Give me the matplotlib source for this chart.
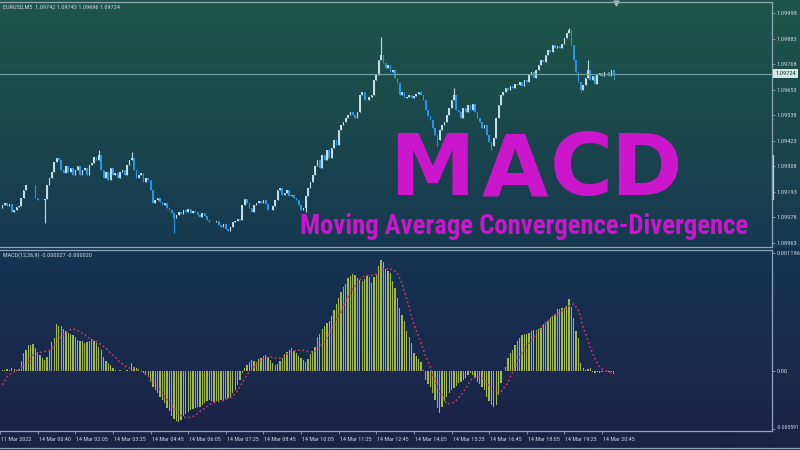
import numpy as np
import matplotlib
matplotlib.use('Agg')
import matplotlib.pyplot as plt
import matplotlib.transforms as mtransforms
from matplotlib.lines import Line2D
from matplotlib import font_manager as fm

# EURUSD M5 closes, in points (1e-5), one per bar
closes_pts = [
    109134, 109143, 109129, 109138, 109102, 109111, 109125, 109129, 109165, 109201,
    109224, 109224, 109224, 109224, 109165, 109156, 109156, 109156, 109160, 109224,
    109255, 109282, 109327, 109345, 109336, 109291, 109278, 109309, 109282, 109300,
    109268, 109291, 109309, 109268, 109291, 109300, 109268, 109314, 109323, 109350,
    109336, 109358, 109291, 109255, 109282, 109246, 109300, 109268, 109278, 109255,
    109282, 109291, 109268, 109314, 109336, 109345, 109291, 109255, 109268, 109278,
    109237, 109255, 109246, 109201, 109143, 109156, 109165, 109147, 109134, 109143,
    109120, 109111, 109098, 109075, 109088, 109102, 109093, 109111, 109102, 109116,
    109098, 109107, 109102, 109088, 109080, 109098, 109084, 109066, 109057, 109057,
    109057, 109062, 109044, 109035, 109048, 109026, 109017, 109035, 109057, 109062,
    109071, 109066, 109134, 109161, 109143, 109120, 109102, 109134, 109143, 109152,
    109143, 109156, 109138, 109111, 109111, 109129, 109156, 109201, 109210, 109178,
    109188, 109201, 109174, 109178, 109165, 109156, 109134, 109111, 109120, 109174,
    109210, 109237, 109268, 109309, 109336, 109300, 109358, 109336, 109381, 109345,
    109390, 109426, 109403, 109471, 109493, 109507, 109525, 109538, 109552, 109538,
    109525, 109552, 109628, 109642, 109606, 109606, 109619, 109628, 109696, 109718,
    109786, 109808, 109772, 109750, 109763, 109732, 109741, 109705, 109682, 109628,
    109642, 109615, 109619, 109628, 109615, 109624, 109633, 109642, 109628, 109606,
    109561, 109534, 109516, 109480, 109448, 109426, 109471, 109493, 109507, 109538,
    109570, 109606, 109628, 109561, 109552, 109525, 109570, 109552, 109583, 109561,
    109588, 109552, 109525, 109507, 109480, 109493, 109448, 109417, 109399, 109435,
    109525, 109583, 109628, 109642, 109660, 109651, 109669, 109660, 109678, 109673,
    109687, 109669, 109696, 109687, 109718, 109732, 109705, 109741, 109763, 109786,
    109777, 109808, 109831, 109822, 109854, 109840, 109849, 109840, 109858, 109885,
    109907, 109921, 109854, 109786, 109732, 109687, 109651, 109673, 109705, 109741,
    109696, 109714, 109678, 109718, 109727, 109714, 109732, 109732, 109714, 109742,
    109724,
]
first_open = 1.09120
# wicks that stick out on the chart: bar -> (high, low)
wicks = {18: (None, 1.09053), 41: (1.09381, None), 55: (1.09372, None),
         73: (None, 1.09008), 129: (None, 1.09102), 161: (1.09890, None),
         185: (None, 1.09400), 192: (1.09660, None), 208: (None, 1.09381),
         241: (1.09930, None), 246: (None, 1.09642), 249: (1.09786, None),
         260: (1.09743, 1.09696)}

# MACD(12,26,9) main histogram and signal, in 1e-5
macd_main = [
    1, 1, 2, 1, 3, 2, 1, 2, 10, 18,
    21, 26, 26, 27, 23, 19, 16, 13, 11, 14,
    21, 29, 33, 48, 46, 46, 43, 41, 39, 37,
    36, 34, 31, 30, 30, 28, 29, 30, 32, 30,
    28, 24, 21, 14, 10, 8, 6, 3, 1, 0,
    1, 0, 0, 1, 0, 8, 4, 3, 2, -1,
    -2, -4, -6, -11, -16, -19, -22, -26, -29, -32,
    -37, -41, -46, -49, -51, -52, -50, -46, -44, -42,
    -40, -39, -37, -36, -36, -34, -32, -30, -29, -30,
    -31, -30, -30, -29, -30, -28, -27, -26, -22, -19,
    -14, -9, -2, 3, 6, 9, 11, 10, 9, 12,
    13, 15, 16, 14, 11, 8, 6, 7, 10, 13,
    17, 19, 21, 23, 20, 18, 15, 13, 11, 9,
    12, 17, 20, 24, 34, 38, 43, 46, 49, 51,
    56, 62, 68, 74, 80, 85, 88, 94, 96, 98,
    97, 94, 92, 91, 93, 96, 95, 89, 95, 98,
    106, 113, 110, 103, 101, 99, 91, 84, 74, 64,
    57, 51, 41, 34, 28, 18, 15, 12, 9, 1,
    -9, -13, -16, -22, -29, -38, -43, -36, -30, -26,
    -22, -19, -17, -15, -12, -11, -9, -7, -4, -2,
    -4, -7, -11, -13, -16, -19, -26, -30, -34, -36,
    -34, -24, -12, 0, 4, 13, 18, 21, 26, 30,
    33, 36, 37, 38, 39, 41, 42, 42, 43, 44,
    48, 50, 51, 54, 56, 58, 63, 63, 64, 64,
    66, 73, 65, 54, 41, 33, 8, 3, 1, 2,
    3, -1, -2, -1, -2, -1, 0, -1, -1, -1,
    -3,
]
macd_signal = [
    -14, -10, -6, -4, -2, -1, 0, 1, 3, 5,
    7, 9, 12, 16, 17, 18, 19, 19, 20, 20,
    21, 23, 26, 29, 32, 35, 37, 39, 41, 42,
    43, 42, 41, 40, 38, 37, 35, 33, 32, 31,
    30, 28, 27, 25, 23, 21, 18, 16, 14, 11,
    9, 7, 5, 4, 3, 3, 3, 2, 1, 0,
    -2, -3, -5, -8, -11, -13, -16, -19, -22, -26,
    -29, -32, -35, -38, -40, -43, -45, -46, -47, -47,
    -47, -46, -45, -43, -41, -39, -38, -36, -34, -33,
    -32, -32, -31, -31, -30, -29, -28, -27, -25, -23,
    -20, -16, -12, -8, -4, -1, 1, 4, 7, 9,
    11, 13, 13, 14, 14, 14, 13, 13, 13, 14,
    15, 17, 19, 20, 20, 21, 21, 21, 21, 20,
    20, 19, 20, 20, 21, 24, 27, 30, 34, 38,
    42, 46, 51, 56, 60, 66, 70, 75, 80, 83,
    86, 89, 92, 95, 96, 97, 97, 97, 98, 98,
    100, 102, 103, 103, 104, 104, 102, 101, 99, 94,
    89, 80, 73, 64, 55, 48, 41, 35, 29, 22,
    15, 10, 4, -4, -10, -16, -21, -25, -30, -33,
    -33, -32, -32, -30, -27, -25, -21, -18, -14, -10,
    -7, -7, -6, -6, -7, -9, -12, -15, -18, -21,
    -22, -22, -21, -18, -15, -12, -6, -1, 4, 9,
    15, 19, 22, 25, 28, 31, 34, 38, 41, 43,
    46, 48, 50, 53, 55, 57, 58, 60, 61, 63,
    65, 66, 67, 68, 65, 61, 54, 44, 38, 31,
    24, 18, 13, 8, 4, 2, 1, 0, -1, -2,
    -2,
]

price_ticks = [1.09998, 1.09883, 1.09768, 1.09653, 1.09538,
               1.09423, 1.09308, 1.09193, 1.09078, 1.08963]
macd_ticks = [0.001196, 0.0, -0.000591]
macd_tick_labels = ["0.001196", "0.00", "-0.000591"]
time_bars = [-1, 15, 31, 47, 63, 79, 95, 111, 127, 143, 159, 175, 191, 207, 223, 239, 255]
time_labels = ["11 Mar 2022", "14 Mar 00:40", "14 Mar 02:05", "14 Mar 03:25", "14 Mar 04:45",
               "14 Mar 06:05", "14 Mar 07:25", "14 Mar 08:45", "14 Mar 10:05", "14 Mar 11:25",
               "14 Mar 12:45", "14 Mar 14:05", "14 Mar 15:25", "14 Mar 16:45", "14 Mar 18:05",
               "14 Mar 19:25", "14 Mar 20:45"]
last_price = 1.09724
header_price = "EURUSD,M5  1.09742 1.09743 1.09696 1.09724"
header_macd = "MACD(12,26,9) -0.000027 -0.000020"

# pick a narrow face if one is installed
names = {f.name for f in fm.fontManager.ttflist}
nfam, nstretch = 'DejaVu Sans', 'normal'
for cand in ['Liberation Sans Narrow', 'Roboto Condensed', 'DejaVu Sans Condensed',
             'Open Sans Condensed', 'Noto Sans Condensed']:
    if cand in names:
        nfam = cand
        break
else:
    if any(f.name == 'DejaVu Sans' and str(f.stretch) == 'condensed' for f in fm.fontManager.ttflist):
        nstretch = 'condensed'
narrow = dict(family=[nfam, 'DejaVu Sans'], stretch=nstretch)

frame_col = '#8fa5b8'
text_col = '#c9d3dc'
magenta = '#cc16cc'

W, H = 800, 450
def fy(py):
    return 1 - py / H

fig = plt.figure(figsize=(8, 4.5), dpi=100)
renderer = fig.canvas.get_renderer()

def fit_size(sample, width_px, base=6.0, **kw):
    t = fig.text(0, 0, sample, fontsize=base, **kw)
    w = t.get_window_extent(renderer).width
    t.remove()
    return base * width_px / w

# background gradients (price window, indicator window, time strip)
grad = np.zeros((H, 1, 3))
top_a, top_b = np.array([31, 86, 72]), np.array([22, 57, 81])
bot_a, bot_b = np.array([22, 51, 84]), np.array([27, 36, 72])
for r in range(H):
    if r < 248:
        c = top_a + (top_b - top_a) * r / 247
    elif r < 432:
        c = bot_a + (bot_b - bot_a) * (r - 248) / 183
    else:
        c = np.array([27, 35, 70])
    grad[r, 0] = c / 255
bg = fig.add_axes([0, 0, 1, 1], zorder=-10)
bg.imshow(grad, aspect='auto', extent=[0, 1, 0, 1], interpolation='bilinear')
bg.axis('off')

closes = np.array(closes_pts) / 1e5
n = len(closes)
idx = np.arange(n)
opens = np.concatenate([[first_open], closes[:-1]])
highs = np.maximum(opens, closes)
lows = np.minimum(opens, closes)
for i, (h, l) in wicks.items():
    if h is not None:
        highs[i] = h
    if l is not None:
        lows[i] = l

cols = np.where(closes > opens, '#c3dde6', np.where(closes < opens, '#2b93e6', '#2fc25a'))

ax1 = fig.add_axes([0, fy(246.5), 772 / W, 245 / H], facecolor='none')
ax1.vlines(idx, lows, highs, colors=cols, lw=0.8)
ax1.bar(idx, np.maximum(np.abs(closes - opens), 0.000018), bottom=np.minimum(opens, closes),
        width=0.68, color=cols, linewidth=0)
ax1.axhline(last_price, color='#6f9ea0', lw=0.9)
ax1.set_xlim(-1.03, 327.3)
ax1.set_ylim(1.0894725, 1.1004975)

ax2 = fig.add_axes([0, fy(431), 772 / W, 181.5 / H], facecolor='none')
ax2.bar(idx, np.array(macd_main) * 1e-5, width=0.55, color='#a0b84c', linewidth=0)
ax2.plot(idx, np.array(macd_signal) * 1e-5, color='#c63a5c', lw=1.1, linestyle=(0, (1.2, 1.6)))
ax2.set_xlim(-1.03, 327.3)
ax2.set_ylim(-0.00060816, 0.0012315)

price_size = min(fit_size("1.09998", 21, **narrow), 5.5)
time_size = min(fit_size("14 Mar 00:40", 32, **narrow), 5.5)

for ax in (ax1, ax2):
    for s in ('top', 'bottom', 'right'):
        ax.spines[s].set_color(frame_col)
        ax.spines[s].set_linewidth(0.9)
    ax.spines['left'].set_visible(False)
    ax.yaxis.tick_right()
    ax.tick_params(axis='y', direction='out', length=2, width=0.6, color=frame_col,
                   labelsize=price_size, labelcolor=text_col, pad=1.2)

ax1.set_xticks([])
ax1.set_yticks(price_ticks)
ax1.set_yticklabels([f"{v:.5f}" for v in price_ticks], **narrow)
ax2.set_yticks(macd_ticks)
ax2.set_yticklabels(macd_tick_labels, **narrow)
# the lowest indicator label sits a little higher and must fit the right edge
low_lbl = ax2.get_yticklabels()[-1]
low_lbl.set_fontsize(min(price_size, fit_size("-0.000591", 23, **narrow)))
low_lbl.set_transform(low_lbl.get_transform() +
                      mtransforms.ScaledTranslation(0, 2.5 / 100, fig.dpi_scale_trans))
ax2.set_xticks(time_bars)
ax2.set_xticklabels(time_labels, ha='left', **narrow)
ax2.tick_params(axis='x', direction='out', length=2.5, width=0.6, color=frame_col,
                labelsize=time_size, labelcolor=text_col, pad=1.8)
shift = mtransforms.ScaledTranslation(1 / 100, 0, fig.dpi_scale_trans)
for lbl in ax2.get_xticklabels():
    lbl.set_transform(lbl.get_transform() + shift)

# current price box on the price scale
tr1 = mtransforms.blended_transform_factory(ax1.transAxes, ax1.transData)
ax1.text(1.004, last_price, f"{last_price:.5f}", transform=tr1, fontsize=price_size,
         color='#12323a', va='center', ha='left',
         bbox=dict(boxstyle='square,pad=0.3', facecolor='#d3e9e8', edgecolor='none'), **narrow)
ax1.plot([1.0012, 1.0012], [1.09359, 1.09157], transform=tr1, color='#b9d2e0', lw=1.6,
         clip_on=False, solid_capstyle='butt')
ax1.plot([n], [0.992], marker='v', markersize=3.5, color='#a9bac4',
         transform=mtransforms.blended_transform_factory(ax1.transData, ax1.transAxes),
         clip_on=False)

hs = fit_size(header_price, 118, **narrow)
fig.text(3 / W, fy(7), header_price, fontsize=hs, color=text_col, va='center', **narrow)
ms = fit_size(header_macd, 90, **narrow)
fig.text(3 / W, fy(255), header_macd, fontsize=ms, color=text_col, va='center', **narrow)
fig.add_artist(Line2D([0, 1], [fy(448), fy(448)], transform=fig.transFigure,
                      color=frame_col, lw=0.9))

# overlay title
for letter, cx in zip("MACD", [431.5, 515, 581, 645.5]):
    fig.text(cx / W, fy(195), letter, fontsize=62, fontweight='bold', color=magenta,
             ha='center', va='baseline', family='DejaVu Sans')
sub_text = "Moving Average Convergence-Divergence"
ss = fit_size(sub_text, 445, base=20, fontweight='bold', **narrow)
fig.text(300 / W, fy(234), sub_text, fontsize=ss, fontweight='bold', color=magenta,
         ha='left', va='baseline', **narrow)

fig.savefig('out.png', dpi=100)
